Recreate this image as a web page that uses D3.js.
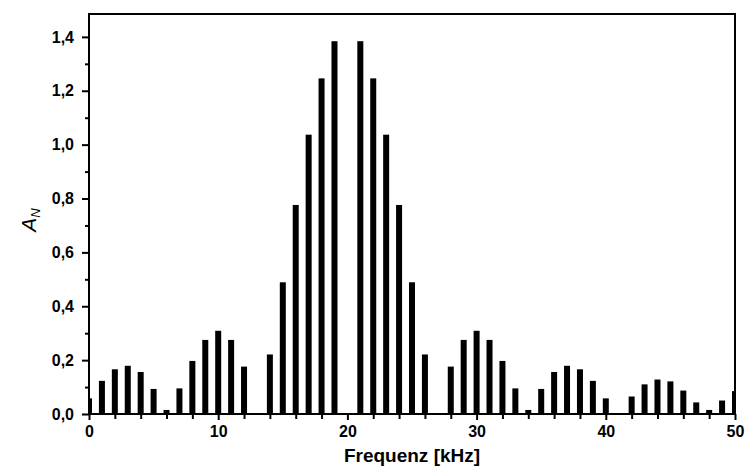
<html>
<head>
<script src="https://d3js.org/d3.v7.min.js"></script>
<style>
    body { margin: 0; background: #fff; }
    text { font-family: "Liberation Sans", Arial, sans-serif; }
    .axis .domain { stroke: none; }
    .axis line { stroke: #000; stroke-width: 2; }
    .axis text { font-size: 16px; font-weight: bold; fill: #000; }
</style>
</head>
<body>
    <svg id="spectrum" height="468" width="746"></svg>

    <script>
        // frequency in kHz and amplitude A_N
        const freqs = d3.range(0, 51);
        const amps = [0.058, 0.123, 0.166, 0.179, 0.156, 0.093, 0.015, 0.095, 0.197, 0.275,
                      0.309, 0.275, 0.176, 0.003, 0.221, 0.489, 0.776, 1.037, 1.246, 1.384,
                      0.0, 1.384, 1.246, 1.037, 0.776, 0.489, 0.221, 0.003, 0.176, 0.275,
                      0.309, 0.275, 0.197, 0.095, 0.015, 0.093, 0.156, 0.179, 0.166, 0.123,
                      0.058, 0.003, 0.065, 0.110, 0.128, 0.121, 0.087, 0.043, 0.015, 0.050,
                      0.085];
        const xTicks = [0, 10, 20, 30, 40, 50];
        const xMinor = [2, 4, 6, 8, 12, 14, 16, 18, 22, 24, 26, 28, 32, 34, 36, 38, 42, 44, 46, 48];
        const yTicks = [0, 0.2, 0.4, 0.6, 0.8, 1.0, 1.2, 1.4];
        const yMinor = [0.1, 0.3, 0.5, 0.7, 0.9, 1.1, 1.3];

        const svg = d3.select("svg#spectrum");
        const margin = {top: 14, right: 11, bottom: 54, left: 89};
        const width = svg.attr("width");
        const height = svg.attr("height");
        const chartWidth = width - margin.left - margin.right;
        const chartHeight = height - margin.top - margin.bottom;

        const xScale = d3.scaleLinear().domain([0, 50]).range([margin.left, margin.left + chartWidth]);
        const yScale = d3.scaleLinear().domain([0, 1.485]).range([margin.top + chartHeight, margin.top]);

        svg.append("clipPath").attr("id", "plotclip")
           .append("rect")
           .attr("x", margin.left).attr("y", margin.top)
           .attr("width", chartWidth).attr("height", chartHeight);

        // bars
        const barW = 6;
        svg.append("g").attr("clip-path", "url(#plotclip)")
           .selectAll("rect.bar").data(freqs)
           .join("rect").attr("class", "bar")
           .attr("x", (d, i) => xScale(d) - barW / 2)
           .attr("y", (d, i) => yScale(amps[i]))
           .attr("width", barW)
           .attr("height", (d, i) => yScale(0) - yScale(amps[i]))
           .attr("fill", "#000");

        const comma = v => d3.format(".1f")(v).replace(".", ",");

        // y axis
        svg.append("g").attr("class", "axis")
           .attr("transform", `translate(${margin.left},0)`)
           .call(d3.axisLeft(yScale).tickValues(yTicks).tickSize(7).tickPadding(8).tickFormat(comma));
        svg.append("g").attr("class", "axis")
           .attr("transform", `translate(${margin.left},0)`)
           .call(d3.axisLeft(yScale).tickValues(yMinor).tickSize(4).tickFormat(""));

        // x axis
        svg.append("g").attr("class", "axis")
           .attr("transform", `translate(0,${margin.top + chartHeight})`)
           .call(d3.axisBottom(xScale).tickValues(xTicks).tickSize(6).tickPadding(6).tickFormat(d3.format("d")));
        svg.append("g").attr("class", "axis")
           .attr("transform", `translate(0,${margin.top + chartHeight})`)
           .call(d3.axisBottom(xScale).tickValues(xMinor).tickSize(5).tickFormat(""));

        // frame
        svg.append("rect")
           .attr("x", margin.left).attr("y", margin.top)
           .attr("width", chartWidth).attr("height", chartHeight)
           .attr("fill", "none").attr("stroke", "#000").attr("stroke-width", 2);

        // axis titles
        svg.append("text")
           .attr("x", margin.left + chartWidth / 2).attr("y", 462)
           .attr("text-anchor", "middle")
           .style("font-size", "19px")
           .style("font-weight", "bold")
           .text("Frequenz [kHz]");

        const yLabel = svg.append("text")
           .attr("transform", `translate(36, ${margin.top + chartHeight / 2 + 6}) rotate(-90)`)
           .attr("text-anchor", "middle")
           .style("font-size", "21px")
           .style("font-style", "italic");
        yLabel.append("tspan").text("A");
        yLabel.append("tspan").attr("dy", 4).style("font-size", "13px").text("N");
    </script>
</body>
</html>
